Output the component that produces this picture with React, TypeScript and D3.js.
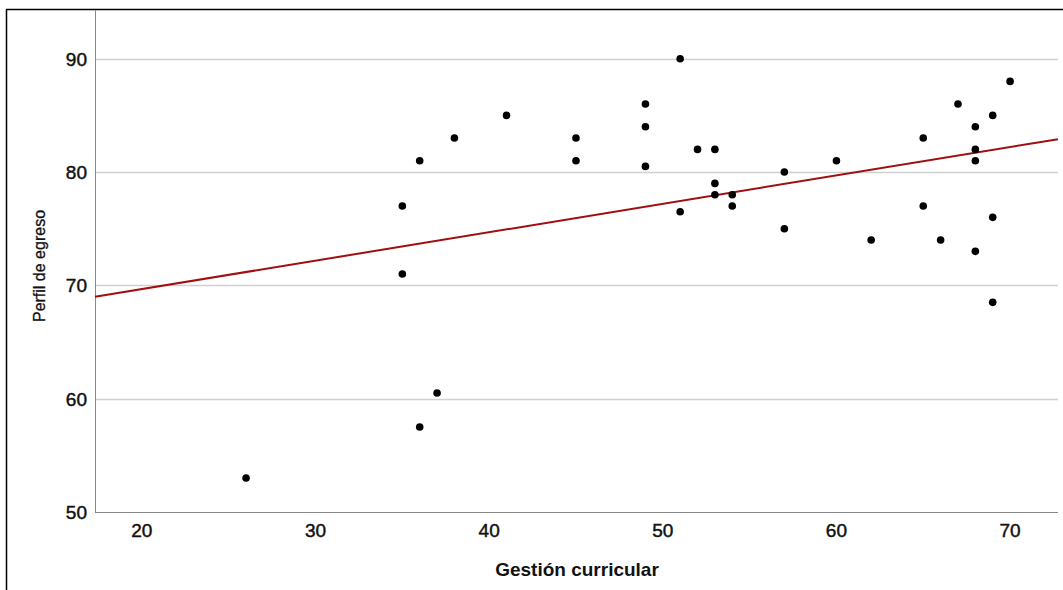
import React from "react";
import * as d3 from "d3";

const gestion = [26, 35, 35, 36, 36, 37, 38, 41, 45, 45, 49, 49, 49, 51, 51, 52, 53, 53, 53, 54, 54, 57, 57, 60, 62, 65, 65, 66, 67, 68, 68, 68, 68, 69, 69, 69, 70];
const perfil = [53, 77, 71, 81, 57.5, 60.5, 83, 85, 83, 81, 86, 84, 80.5, 90, 76.5, 82, 82, 79, 78, 78, 77, 80, 75, 81, 74, 83, 77, 74, 86, 84, 82, 81, 73, 85, 76, 68.5, 88];
const xTicks = [20, 30, 40, 50, 60, 70];
const yTicks = [50, 60, 70, 80, 90];
const fitLine = [64.66, 0.2507]; // intercept, slope
const xTitle = "Gestión curricular";
const yTitle = "Perfil de egreso";

const W = 1063;
const H = 590;
const left = 95;
const right = 1058;
const top = 10;
const bottom = 512;

export default function App() {
  const x = d3.scaleLinear().domain([17.3, 72.76]).range([left, right]);
  const y = d3.scaleLinear().domain([50, 94.3]).range([bottom, top]);
  const [b0, b1] = fitLine;
  const xd = x.domain();
  const line = d3.line<number>().x((v) => x(v)).y((v) => y(b0 + b1 * v));
  const font = "'Liberation Sans', Arial, sans-serif";
  return (
    <svg width={W} height={H} style={{ position: "absolute", left: 0, top: 0 }}>
      <rect x={0} y={0} width={W} height={H} fill="#fff" />
      {/* outer frame */}
      <line x1={6} x2={W} y1={9.5} y2={9.5} stroke="#000" strokeWidth={1.5} />
      <line x1={6.5} x2={6.5} y1={9.5} y2={H} stroke="#000" strokeWidth={1.5} />
      {/* grid */}
      {yTicks.filter((t) => t !== 50).map((t) => (
        <line key={t} x1={left} x2={right} y1={Math.round(y(t)) + 0.5} y2={Math.round(y(t)) + 0.5} stroke="#d0d0d0" strokeWidth={1.5} />
      ))}
      {/* axes */}
      <line x1={left + 0.5} x2={left + 0.5} y1={top} y2={bottom} stroke="#888" strokeWidth={1} />
      <line x1={left} x2={right} y1={bottom + 0.5} y2={bottom + 0.5} stroke="#888" strokeWidth={1} />
      {yTicks.map((t) => (
        <text key={t} x={87} y={y(t) + 7} textAnchor="end" fontFamily={font} fontSize={19} fill="#111" stroke="#111" strokeWidth={0.45}>{t}</text>
      ))}
      {xTicks.map((t) => (
        <text key={t} x={x(t)} y={537} textAnchor="middle" fontFamily={font} fontSize={19} fill="#111" stroke="#111" strokeWidth={0.45}>{t}</text>
      ))}
      <text x={577} y={576} textAnchor="middle" fontFamily={font} fontSize={19} fontWeight="bold" fill="#111">{xTitle}</text>
      <text transform={`translate(45,266) rotate(-90)`} textAnchor="middle" fontFamily={font} fontSize={16} fill="#111" stroke="#111" strokeWidth={0.3}>{yTitle}</text>
      {/* fit line */}
      <path d={line([xd[0], xd[1]]) || ""} fill="none" stroke="#a00f0f" strokeWidth={2} />
      {gestion.map((g, i) => (
        <circle key={i} cx={x(g)} cy={y(perfil[i])} r={3.8} fill="#000" />
      ))}
    </svg>
  );
}
